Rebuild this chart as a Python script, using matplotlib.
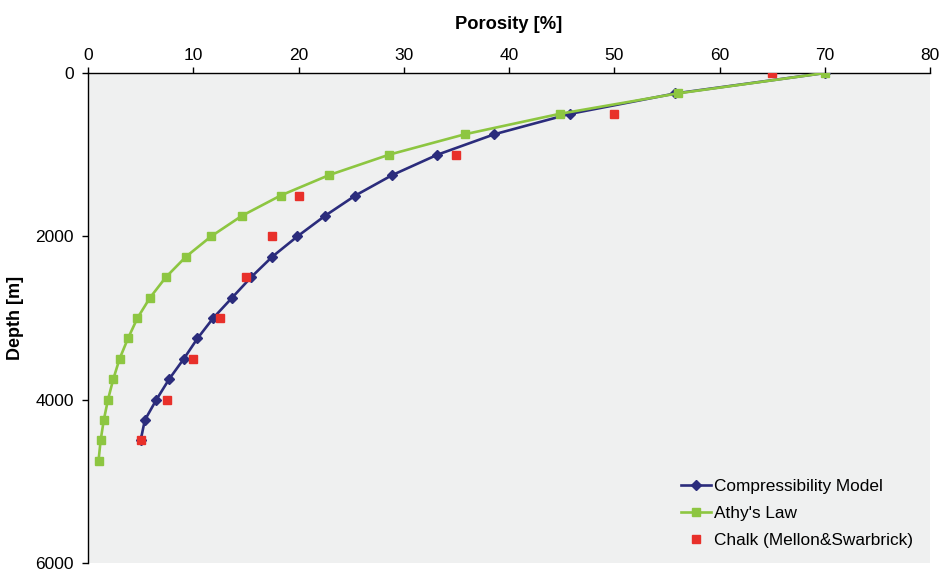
import matplotlib
matplotlib.use("Agg")
import matplotlib.pyplot as plt

plt.rcParams['font.family'] = ['Liberation Sans', 'DejaVu Sans']

# depth [m]
depth_model = [0, 250, 500, 750, 1000, 1250, 1500, 1750, 2000, 2250,
               2500, 2750, 3000, 3250, 3500, 3750, 4000, 4250, 4500]
poro_model = [70.0, 55.8, 45.8, 38.6, 33.2, 28.9, 25.4, 22.5, 19.9, 17.5,
              15.5, 13.7, 11.9, 10.4, 9.1, 7.7, 6.5, 5.4, 5.0]

depth_athy = [0, 250, 500, 750, 1000, 1250, 1500, 1750, 2000, 2250,
              2500, 2750, 3000, 3250, 3500, 3750, 4000, 4250, 4500, 4750]
poro_athy = [70.0, 56.0, 44.8, 35.8, 28.6, 22.9, 18.3, 14.6, 11.7, 9.3,
             7.4, 5.9, 4.7, 3.8, 3.0, 2.4, 1.9, 1.5, 1.2, 1.0]

depth_chalk = [0, 500, 1000, 1500, 2000, 2500, 3000, 3500, 4000, 4500]
poro_chalk = [65, 50, 35, 20, 17.5, 15, 12.5, 10, 7.5, 5]

fig = plt.figure(figsize=(9.41, 5.70), dpi=100)
ax = fig.add_axes([0.0935, 0.0123, 0.895, 0.8596])
ax.set_facecolor('#EFF0F0')

ax.plot(poro_model, depth_model, color='#2B2C7C', lw=1.9, marker='D', ms=5.5,
        label='Compressibility Model', zorder=3)
ax.plot(poro_athy, depth_athy, color='#8DC641', lw=1.9, marker='s', ms=6,
        label="Athy's Law", zorder=4)
ax.plot(poro_chalk, depth_chalk, color='#E8302A', ls='none', marker='s', ms=6,
        label='Chalk (Mellon&Swarbrick)', zorder=5)

ax.set_xlim(0, 80)
ax.set_ylim(6000, 0)
ax.set_xticks(range(0, 81, 10))
ax.set_yticks([0, 2000, 4000, 6000])
ax.xaxis.tick_top()
ax.xaxis.set_label_position('top')
ax.tick_params(axis='both', direction='out', length=4, width=1, labelsize=12.5,
               colors='black')
ax.tick_params(axis='x', pad=3)
ax.tick_params(axis='y', pad=6)

for s in ['right', 'bottom']:
    ax.spines[s].set_visible(False)
for s in ['left', 'top']:
    ax.spines[s].set_linewidth(1)

ax.set_xlabel('Porosity [%]', fontsize=13.2, fontweight='bold', labelpad=14)
ax.set_ylabel('Depth [m]', fontsize=13, fontweight='bold', labelpad=8)

ax.legend(loc='lower right', frameon=False, fontsize=12.4, handlelength=1.7,
          handletextpad=0.2, labelspacing=0.7, bbox_to_anchor=(0.998, -0.002))

fig.savefig('out.png', dpi=100)
